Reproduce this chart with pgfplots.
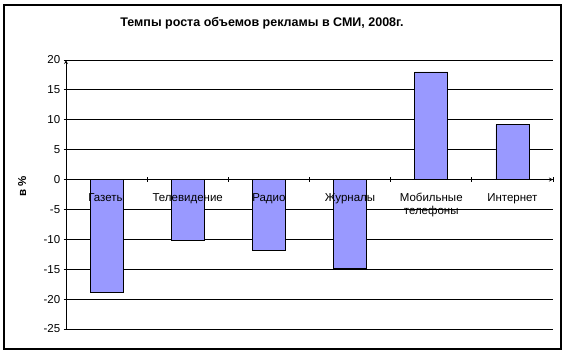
\documentclass[border=0pt]{standalone}
\usepackage{pgfplots}
\pgfplotsset{compat=1.18}
\usepackage{fontspec}
\setmainfont{Liberation Sans}
\definecolor{barfill}{HTML}{9999FF}
\pgfplotsset{common/.style={
  anchor=south west, scale only axis,
  width=487pt,
  xmin=-0.5, xmax=5.5,
  axis line style={-, black, line width=0.8pt},
  tick align=outside, major tick length=4.5pt,
  tick style={black, line width=0.8pt},
  /pgf/number format/assume math mode=true,
  tick label style={font=\fontsize{11.5}{13}\selectfont},
  xtick={-0.5,0.5,1.5,2.5,3.5,4.5,5.5},
}}
\begin{document}
\begin{tikzpicture}[x=1pt,y=1pt]
\useasboundingbox (0,0) rectangle (567,353);
\draw[line width=1.2pt] (4,4) rectangle (561,348);
\node[font=\bfseries\fontsize{12.5}{14}\selectfont] at (262,330) {Темпы роста объемов рекламы в СМИ, 2008г.};
\begin{axis}[common,
  at={(66pt,24pt)}, height=269pt,
  ymin=-25, ymax=20,
  axis y line=left, axis x line=none,
  ytick={-25,-20,...,20},
  ymajorgrids, grid style={black, line width=0.8pt},
  xticklabels={},
  ylabel={\bfseries в \%},
  ylabel style={font=\fontsize{11.5}{13}\selectfont, at={(axis description cs:-0.09,0.53)}, anchor=center},
]
\addplot[ybar, bar width=33pt, bar shift=0pt, fill=barfill, draw=black, line width=0.8pt] coordinates {(0,-18.8) (1,-10.1) (2,-11.8) (3,-14.8) (4,18) (5,9.2)};
\end{axis}
\begin{axis}[common,
  at={(66pt,173.44pt)}, height=119.56pt,
  ymin=0, ymax=20,
  axis x line=bottom, axis y line=none,
  ytick=\empty,
  xticklabels={Газеты,Телевидение,Радио,Журналы,{Мобильные\\телефоны},Интернет,{}},
  xticklabel style={align=center, anchor=north, xshift=40.58pt, yshift=-8pt},
]
\end{axis}
\end{tikzpicture}
\end{document}
